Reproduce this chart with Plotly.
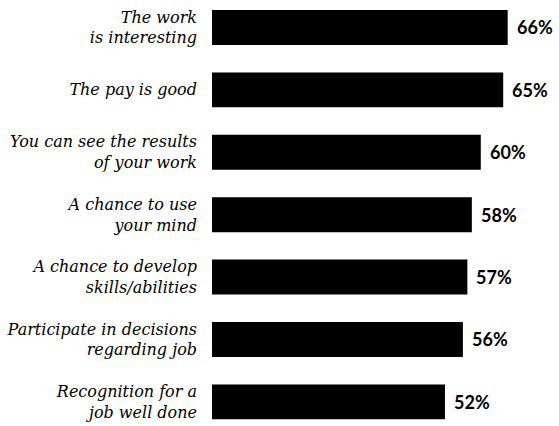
import plotly.graph_objects as go

categories = [
    "The work<br>is interesting",
    "The pay is good",
    "You can see the results<br>of your work",
    "A chance to use<br>your mind",
    "A chance to develop<br>skills/abilities",
    "Participate in decisions<br>regarding job",
    "Recognition for a<br>job well done",
]
values = [66, 65, 60, 58, 57, 56, 52]
value_labels = [f"{v}%" for v in values]

fig = go.Figure(
    go.Bar(
        x=values,
        y=categories,
        orientation="h",
        marker=dict(color="black", line=dict(width=0)),
        hoverinfo="skip",
    )
)

for c, v, t in zip(categories, values, value_labels):
    fig.add_annotation(
        x=v, y=c, text=f"<b>{t}</b>", showarrow=False,
        xanchor="left", yanchor="middle", xshift=7,
        font=dict(family="Lato, DejaVu Sans, sans-serif", size=18, color="black"),
    )

fig.update_layout(
    width=559, height=426,
    margin=dict(l=212, r=11, t=0, b=0, autoexpand=False),
    paper_bgcolor="white", plot_bgcolor="white",
    bargap=0.44,
    showlegend=False,
    xaxis=dict(range=[0, 75], visible=False, fixedrange=True, automargin=False),
    yaxis=dict(
        type="category", automargin=False,
        categoryorder="array", categoryarray=categories,
        range=[6.387, -0.44],
        showgrid=False, zeroline=False, showline=False, ticks="",
        ticklabelstandoff=14,
        tickfont=dict(family="DejaVu Serif", size=16, color="black", style="italic"),
    ),
)

fig.write_html(
    "out.html",
    config={"displayModeBar": False},
    post_script="document.body.style.margin='0';document.body.style.overflow='hidden';",
)
